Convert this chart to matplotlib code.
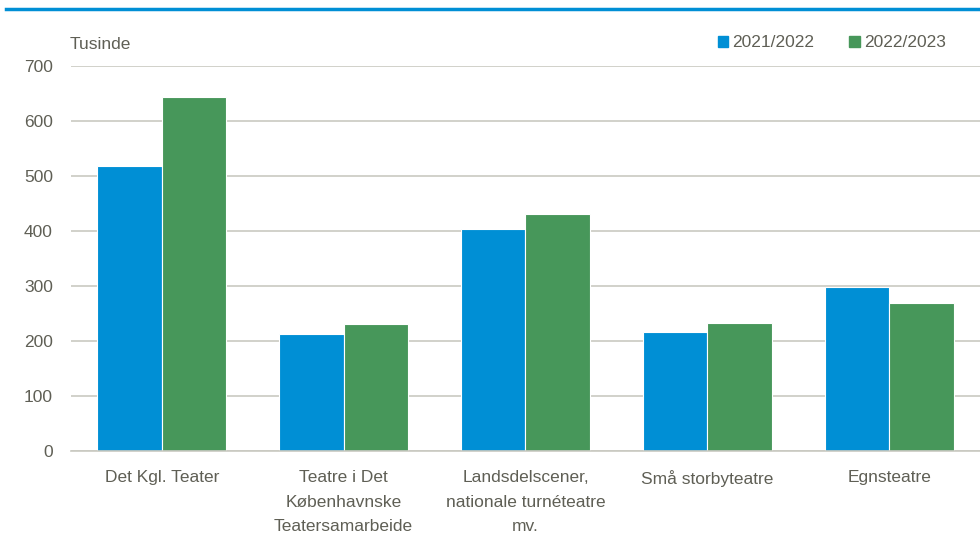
#!/usr/bin/env python3
"""Teater attendance by theatre type, 2021/2022 vs 2022/2023."""

import matplotlib.pyplot as plt
from matplotlib.lines import Line2D
from matplotlib.patches import Patch
import numpy as np

plt.rcParams['font.family'] = ['Liberation Sans', 'DejaVu Sans']

categories = ['Det Kgl. Teater', 'Teatre i Det\nKøbenhavnske\nTeatersamarbeide',
	'Landsdelscener,\nnationale turnéteatre\nmv.', 'Små storbyteatre', 'Egnsteatre']
season_2122 = [518, 213, 404, 216, 298]
season_2223 = [644, 231, 431, 233, 269]
series_labels = ['2021/2022', '2022/2023']

COLORS = {
	'blue': '#008fd5',
	'green': '#47975a',
	'text': '#5f5f55',
	'grid': '#c9c9c1',
}
FS = 12.5

fig = plt.figure(figsize=(9.8, 5.33), dpi=100)
ax = fig.add_axes([0.0724, 0.1538, 0.9276, 0.7222])

x = np.arange(len(categories))
width = 0.355
ax.bar(x - width/2, season_2122, width, color=COLORS['blue'], edgecolor='white', linewidth=0.8, zorder=3)
ax.bar(x + width/2, season_2223, width, color=COLORS['green'], edgecolor='white', linewidth=0.8, zorder=3)

ax.set_xlim(-0.5, len(categories) - 0.5)
ax.set_ylim(0, 700)
ax.set_yticks(range(0, 701, 100))
ax.set_xticks(x)
ax.set_xticklabels(categories, linespacing=1.78)
ax.tick_params(axis='both', length=0, colors=COLORS['text'], labelsize=FS)
ax.tick_params(axis='y', pad=13)
ax.tick_params(axis='x', pad=14)
ax.grid(axis='y', color=COLORS['grid'], linewidth=1.2, zorder=0)
for s in ['top', 'right', 'left']:
	ax.spines[s].set_visible(False)
ax.spines['bottom'].set_color(COLORS['grid'])
ax.spines['bottom'].set_linewidth(1.2)
ax.spines['bottom'].set_zorder(4)

fig.text(0.0714, 0.917, 'Tusinde', color=COLORS['text'], fontsize=FS, va='center')

handles = [Patch(color=COLORS['blue']), Patch(color=COLORS['green'])]
fig.legend(handles, series_labels, loc='center right', bbox_to_anchor=(0.981, 0.92),
	ncol=2, frameon=False, fontsize=FS, labelcolor=COLORS['text'],
	handlelength=0.6, handleheight=0.6, handletextpad=0.25, columnspacing=2.0)

# blue rule at the top
fig.add_artist(Line2D([0.006, 1.0], [0.983, 0.983], color=COLORS['blue'], linewidth=2.5))

plt.savefig('out.png', dpi=100)
plt.close()
